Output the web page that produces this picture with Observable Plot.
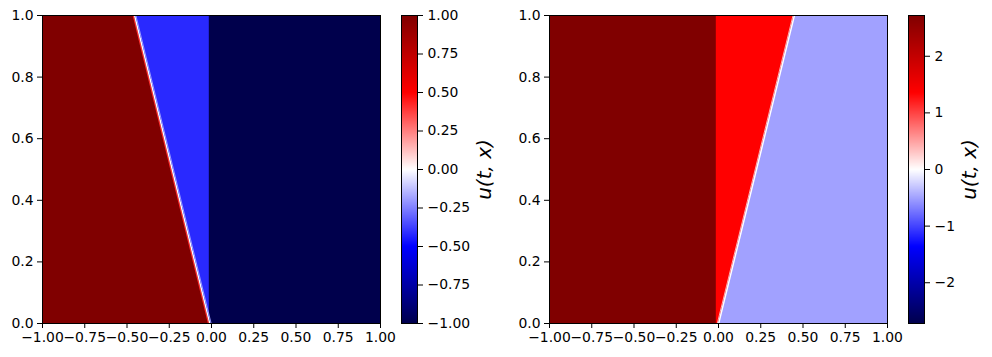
<!DOCTYPE html>
<html>
<head>
<meta charset="utf-8">
<script src="https://cdn.jsdelivr.net/npm/d3@7"></script>
<script src="https://cdn.jsdelivr.net/npm/@observablehq/plot@0.6"></script>
<style>
  html, body { margin: 0; padding: 0; background: white; }
  #chart { position: relative; width: 992px; height: 357px; overflow: hidden; background: white; }
  #chart > div, #chart > svg { position: absolute; top: 0; }
  svg { overflow: visible; }
</style>
</head>
<body>
<div id="chart"></div>
<script>
// ---------- data ----------
const xDomain = [-1, 1];
const tDomain = [0, 1];
const tTimes = [0, 1];
const xTicks = [-1, -0.75, -0.5, -0.25, 0, 0.25, 0.5, 0.75, 1];
const yTicks = [0, 0.2, 0.4, 0.6, 0.8, 1];

// left panel: states (left, middle, right), wave positions at t = 0 and t = 1
const leftU = [1.0, -0.42, -1.0];
const leftShockX = [-0.01, -0.455];
const leftContactX = [-0.013, -0.013];
const leftLimit = 1.0;
const leftCbarTicks = [-1, -0.75, -0.5, -0.25, 0, 0.25, 0.5, 0.75, 1];

// right panel
const rightU = [2.72, 1.36, -0.5];
const rightContactX = [-0.013, -0.013];
const rightShockX = [0.0, 0.448];
const rightLimit = 2.72;
const rightCbarTicks = [-2, -1, 0, 1, 2];

const cbarLabel = "u(t, x)";

// ---------- style ----------
const seismicColors = ["#00004c", "#0000ff", "#ffffff", "#ff0000", "#800000"];
const seismic = d3.piecewise(d3.interpolateRgb, seismicColors);
const font = {fontFamily: "DejaVu Sans", fontSize: "13.9px", color: "black", background: "transparent", overflow: "visible"};
const colorScale = lim => ({type: "linear", domain: [-lim, lim], interpolate: seismic});

function rows(xa, xb, u) {
  return tTimes.map((t, i) => ({t, x1: Array.isArray(xa) ? xa[i] : xa, x2: Array.isArray(xb) ? xb[i] : xb, u}));
}

function panel(layers, lim, smear) {
  return Plot.plot({
    width: 400, height: 357,
    marginLeft: 42, marginRight: 20, marginTop: 15, marginBottom: 34,
    style: font,
    x: {domain: xDomain, ticks: xTicks, tickFormat: ".2f", tickSize: 5, tickPadding: 4, label: null},
    y: {domain: tDomain, ticks: yTicks, tickFormat: ".1f", tickSize: 5, tickPadding: 4, label: null},
    color: colorScale(lim),
    marks: [
      ...layers.map(d => Plot.areaX(d, {y: "t", x1: "x1", x2: "x2", fill: "u", clip: true})),
      ...smear.map(s => Plot.line(tTimes.map((t, i) => ({t, x: s.x[i]})), {x: "x", y: "t", stroke: s.c, strokeWidth: s.w, dx: s.dx, clip: true})),
      Plot.frame({stroke: "black", strokeWidth: 1})
    ]
  });
}

function colorbar(lim, ticks, fmt, width, labelDx) {
  return Plot.plot({
    width, height: 357,
    marginLeft: 21, marginRight: width - 37, marginTop: 15, marginBottom: 34,
    style: font,
    x: {domain: [0, 1], axis: null},
    y: {domain: [-lim, lim], axis: "right", ticks, tickFormat: fmt, tickSize: 5, tickPadding: 5, label: null},
    color: colorScale(lim),
    marks: [
      Plot.raster({x1: 0, x2: 1, y1: -lim, y2: lim, fill: (x, y) => y, pixelSize: 1}),
      Plot.frame({stroke: "black", strokeWidth: 1}),
      Plot.text([cbarLabel], {text: d => d, frameAnchor: "middle", dx: labelDx, rotate: -90,
        fontSize: 20, fontStyle: "italic", fontFamily: "DejaVu Sans", fill: "black"})
    ]
  });
}

const chart = document.getElementById("chart");

const leftPanel = panel([
  rows(xDomain[0], xDomain[1], leftU[2]),
  rows(xDomain[0], leftContactX, leftU[1]),
  rows(xDomain[0], leftShockX, leftU[0])
], leftLimit, [
  {x: leftShockX, c: "#ff3030", w: 1.2, dx: -1.3},
  {x: leftShockX, c: "#ffffff", w: 1.3, dx: 0},
  {x: leftShockX, c: "#9c9cff", w: 1.0, dx: 1.3}
]);
leftPanel.style.left = "0px";
chart.appendChild(leftPanel);

const leftBar = colorbar(leftLimit, leftCbarTicks, ".2f", 120, 75);
leftBar.style.left = "380px";
chart.appendChild(leftBar);

const rightPanel = panel([
  rows(xDomain[0], xDomain[1], rightU[2]),
  rows(xDomain[0], rightShockX, rightU[1]),
  rows(xDomain[0], rightContactX, rightU[0])
], rightLimit, [
  {x: rightShockX, c: "#ffb0b0", w: 1.0, dx: -1.2},
  {x: rightShockX, c: "#ffffff", w: 1.4, dx: 0.2}
]);
rightPanel.style.left = "507px";
chart.appendChild(rightPanel);

const rightBar = colorbar(rightLimit, rightCbarTicks, "d", 105, 53);
rightBar.style.left = "887px";
chart.appendChild(rightBar);
</script>
</body>
</html>
